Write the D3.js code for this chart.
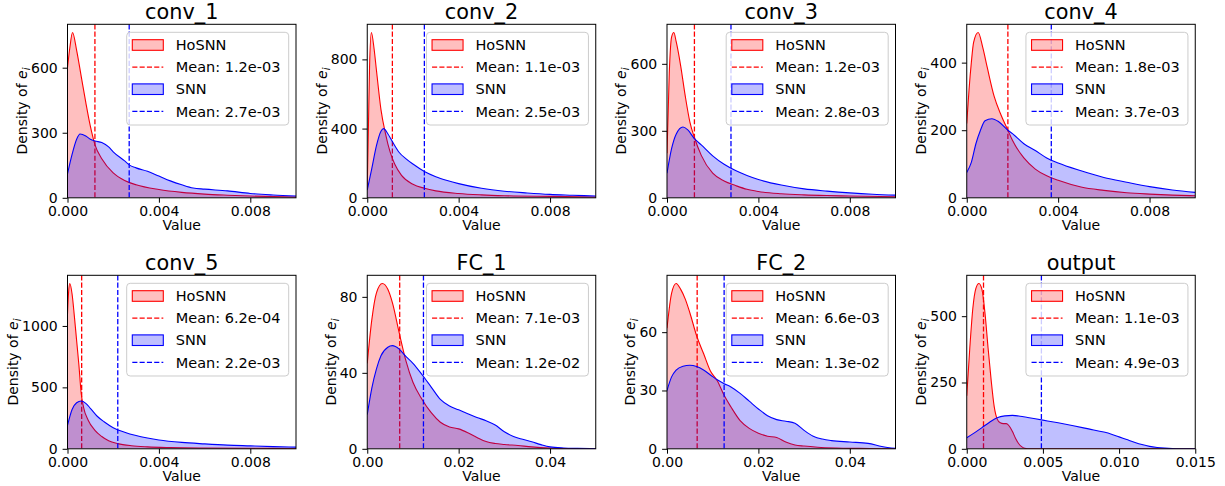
<!DOCTYPE html>
<html>
<head>
<meta charset="utf-8">
<title>Density of e_i per layer: HoSNN vs SNN</title>
<style>
  html, body { margin: 0; padding: 0; background: #fff; }
  svg { display: block; font-family: "DejaVu Sans", sans-serif; }
</style>
</head>
<body>
<svg id="viz"></svg>
<script src="https://cdn.jsdelivr.net/npm/d3@7/dist/d3.min.js"></script>
<script>
var width = 1225;
var height = 486;

// one panel per layer
var titles = ["conv_1", "conv_2", "conv_3", "conv_4", "conv_5", "FC_1", "FC_2", "output"];
var xMax = [0.01, 0.01, 0.01, 0.01, 0.01, 0.05, 0.05, 0.015];
var xTicks = [
  [0, 0.004, 0.008], [0, 0.004, 0.008], [0, 0.004, 0.008], [0, 0.004, 0.008],
  [0, 0.004, 0.008], [0, 0.02, 0.04], [0, 0.02, 0.04], [0, 0.005, 0.010, 0.015]
];
var xTickFormat = [".3f", ".3f", ".3f", ".3f", ".3f", ".2f", ".2f", ".3f"];
var yTicks = [
  [0, 300, 600], [0, 400, 800], [0, 300, 600], [0, 200, 400],
  [0, 500, 1000], [0, 40, 80], [0, 30, 60], [0, 250, 500]
];
var hosnnMean = [0.0012, 0.0011, 0.0012, 0.0018, 0.00062, 0.0071, 0.0066, 0.0011];
var snnMean = [0.0027, 0.0025, 0.0028, 0.0037, 0.0022, 0.0123, 0.0125, 0.0049];
var hosnnMeanLabel = ["1.2e-03", "1.1e-03", "1.2e-03", "1.8e-03", "6.2e-04", "7.1e-03", "6.6e-03", "1.1e-03"];
var snnMeanLabel = ["2.7e-03", "2.5e-03", "2.8e-03", "3.7e-03", "2.2e-03", "1.2e-02", "1.3e-02", "4.9e-03"];

// density curves, [value, density]
var conv1Hosnn = [[0,600],[0.0001,690],[0.00022,762],[0.0004,680],[0.0006,560],[0.0008,440],[0.001,330],[0.0012,245],[0.0015,180],[0.002,115],[0.0025,80],[0.003,60],[0.004,38],[0.005,25],[0.006,17],[0.007,12],[0.008,8],[0.009,6],[0.01,4]];
var conv1Snn = [[0,110],[0.0002,200],[0.0004,270],[0.00055,294],[0.0008,285],[0.001,270],[0.0012,262],[0.0015,255],[0.0018,235],[0.002,212],[0.0025,170],[0.0027,152],[0.003,138],[0.0035,122],[0.004,100],[0.0045,78],[0.005,60],[0.0055,45],[0.006,40],[0.007,32],[0.008,20],[0.009,13],[0.01,8]];

var conv2Hosnn = [[0,60],[0.00005,400],[0.0001,750],[0.00018,955],[0.0003,860],[0.0004,740],[0.0006,510],[0.0008,370],[0.001,265],[0.0012,195],[0.0015,130],[0.002,78],[0.0025,55],[0.003,40],[0.004,25],[0.005,17],[0.006,12],[0.008,8],[0.01,5]];
var conv2Snn = [[0,45],[0.0002,170],[0.0004,300],[0.0006,385],[0.00072,400],[0.0009,370],[0.0011,325],[0.0014,262],[0.0017,225],[0.002,195],[0.0025,152],[0.003,122],[0.0035,100],[0.004,82],[0.005,55],[0.006,38],[0.007,28],[0.008,20],[0.009,15],[0.01,10]];

var conv3Hosnn = [[0,200],[0.0001,560],[0.0002,720],[0.0003,740],[0.0004,700],[0.0006,590],[0.0008,455],[0.001,340],[0.0012,270],[0.0015,190],[0.002,110],[0.0025,75],[0.003,55],[0.0035,38],[0.004,28],[0.005,18],[0.006,13],[0.007,10],[0.008,8],[0.01,5]];
var conv3Snn = [[0,110],[0.0002,220],[0.0004,285],[0.0007,317],[0.0009,305],[0.0012,265],[0.0015,237],[0.002,188],[0.0025,150],[0.003,122],[0.0035,100],[0.004,82],[0.005,57],[0.006,40],[0.007,30],[0.008,22],[0.009,16],[0.01,12]];

var conv4Hosnn = [[0,220],[0.0001,320],[0.0002,400],[0.0003,460],[0.0005,489],[0.0007,445],[0.0009,385],[0.0012,300],[0.0015,245],[0.0018,200],[0.002,170],[0.0025,118],[0.003,85],[0.0035,65],[0.004,52],[0.005,32],[0.006,22],[0.007,15],[0.008,11],[0.009,8],[0.01,6]];
var conv4Snn = [[0,75],[0.0002,105],[0.0004,160],[0.0006,200],[0.0008,228],[0.0011,234],[0.0014,225],[0.0018,200],[0.002,190],[0.0025,160],[0.003,140],[0.0035,118],[0.004,103],[0.005,80],[0.006,60],[0.007,46],[0.008,33],[0.009,23],[0.01,16]];

var conv5Hosnn = [[0,1100],[0.00005,1280],[0.0001,1345],[0.0002,1260],[0.0003,1080],[0.0004,880],[0.0005,680],[0.0006,450],[0.0007,340],[0.0009,235],[0.0012,150],[0.0015,100],[0.0018,65],[0.0022,42],[0.0028,25],[0.0035,16],[0.0045,10],[0.006,6],[0.008,4],[0.01,3]];
var conv5Snn = [[0,190],[0.0002,320],[0.0004,375],[0.0006,389],[0.0008,370],[0.001,330],[0.0013,265],[0.0016,220],[0.002,172],[0.0025,135],[0.003,108],[0.0035,88],[0.004,72],[0.005,52],[0.006,40],[0.007,30],[0.008,24],[0.009,18],[0.01,14]];

var fc1Hosnn = [[0,45],[0.001,68],[0.002,82],[0.0033,87],[0.0045,84],[0.0055,77],[0.007,61],[0.0085,46],[0.01,35],[0.012,26],[0.014,19],[0.016,14],[0.018,11.5],[0.02,10.5],[0.022,8.5],[0.024,6],[0.026,3.8],[0.028,2.8],[0.03,2.3],[0.033,1.7],[0.036,1],[0.04,0.4],[0.045,0.1],[0.05,0]];
var fc1Snn = [[0,18],[0.001,32],[0.002,42],[0.003,49],[0.0045,53.5],[0.0055,54.3],[0.007,52.5],[0.0085,48.5],[0.01,45],[0.012,39],[0.014,32.5],[0.016,26],[0.018,22.5],[0.02,20.5],[0.022,18.5],[0.024,16.5],[0.026,14.8],[0.028,12.5],[0.03,9],[0.032,6.5],[0.034,5],[0.036,3.7],[0.038,2.2],[0.04,1],[0.043,0.4],[0.046,0.2],[0.05,0.1]];

var fc2Hosnn = [[0,62],[0.001,80],[0.002,85],[0.003,82],[0.004,77],[0.005,70],[0.0065,58],[0.008,49],[0.0095,40],[0.011,35],[0.0125,27.5],[0.014,21.5],[0.016,14.5],[0.018,10.5],[0.02,8],[0.022,6.5],[0.024,5.8],[0.026,3.5],[0.028,2],[0.03,1.4],[0.033,0.8],[0.037,0.4],[0.042,0.2],[0.05,0]];
var fc2Snn = [[0,30],[0.001,37],[0.002,40.5],[0.0035,42.5],[0.005,43],[0.0065,42.3],[0.008,40.5],[0.0095,38],[0.011,35.5],[0.0125,33.5],[0.014,31.8],[0.016,28.5],[0.018,24.5],[0.02,20.5],[0.022,17],[0.024,15],[0.026,14.2],[0.028,13.2],[0.03,9.5],[0.032,6.5],[0.034,5],[0.036,4.2],[0.04,3.5],[0.044,2.8],[0.047,1.2],[0.05,0.2]];

var outputHosnn = [[0,200],[0.0002,380],[0.0004,530],[0.0006,605],[0.0008,623],[0.001,600],[0.0012,510],[0.0014,380],[0.0016,260],[0.0018,160],[0.002,112],[0.0022,98],[0.0024,95],[0.0026,95],[0.0028,85],[0.003,65],[0.0032,40],[0.0034,20],[0.0036,8],[0.0038,2],[0.004,0.3],[0.005,0],[0.015,0]];
var outputSnn = [[0,42],[0.0005,60],[0.001,80],[0.0015,100],[0.002,117],[0.0025,124],[0.003,126],[0.0035,123],[0.004,118],[0.005,108],[0.006,98],[0.007,87],[0.008,75],[0.009,63],[0.0095,55],[0.01,45],[0.0105,35],[0.011,25],[0.0115,16],[0.012,9],[0.0125,5],[0.013,2.5],[0.0135,1],[0.014,0.3],[0.015,0.1]];

var hosnnCurves = [conv1Hosnn, conv2Hosnn, conv3Hosnn, conv4Hosnn, conv5Hosnn, fc1Hosnn, fc2Hosnn, outputHosnn];
var snnCurves = [conv1Snn, conv2Snn, conv3Snn, conv4Snn, conv5Snn, fc1Snn, fc2Snn, outputSnn];

// layout (px)
var colLeft = 67.5, colStep = 299.75;
var rowTop = [24.3, 275.3];
var axW = 228.5, axH = 173.5;
var tickFont = 14, legendFont = 14.5, titleFont = 20.8;

var svg = d3.select("#viz").attr("width", width).attr("height", height);

titles.forEach(function(title, i) {
  var left = colLeft + (i % 4) * colStep;
  var top = rowTop[Math.floor(i / 4)];
  var ho = hosnnCurves[i], sn = snnCurves[i];

  var g = svg.append("g").attr("transform", "translate(" + left + "," + top + ")");

  var x = d3.scaleLinear().domain([0, xMax[i]]).range([0, axW]);
  var yTop = 1.05 * d3.max(ho.concat(sn), function(d) { return d[1]; });
  var y = d3.scaleLinear().domain([0, yTop]).range([axH, 0]);

  g.append("clipPath").attr("id", "clip" + i)
    .append("rect").attr("width", axW).attr("height", axH);

  var plot = g.append("g").attr("clip-path", "url(#clip" + i + ")");

  var area = d3.area()
    .x(function(d) { return x(d[0]); })
    .y0(y(0))
    .y1(function(d) { return y(d[1]); })
    .curve(d3.curveMonotoneX);
  var line = d3.line()
    .x(function(d) { return x(d[0]); })
    .y(function(d) { return y(d[1]); })
    .curve(d3.curveMonotoneX);

  function drawSeries(data, mean, color) {
    plot.append("path").datum(data).attr("d", area)
      .attr("fill", color).attr("fill-opacity", 0.25);
    plot.append("path").datum(data).attr("d", line)
      .attr("fill", "none").attr("stroke", color).attr("stroke-width", 1.1);
    plot.append("line")
      .attr("x1", x(mean)).attr("x2", x(mean))
      .attr("y1", 0).attr("y2", axH)
      .attr("stroke", color).attr("stroke-width", 1.3)
      .attr("stroke-dasharray", "5.1,2.2");
  }
  drawSeries(ho, hosnnMean[i], "red");
  drawSeries(sn, snnMean[i], "blue");

  // axes
  var xAxis = g.append("g").attr("transform", "translate(0," + axH + ")")
    .call(d3.axisBottom(x).tickValues(xTicks[i]).tickFormat(d3.format(xTickFormat[i]))
      .tickSize(4.9).tickPadding(3.5).tickSizeOuter(0));
  var yAxis = g.append("g")
    .call(d3.axisLeft(y).tickValues(yTicks[i]).tickFormat(d3.format("d"))
      .tickSize(4.9).tickPadding(4.9).tickSizeOuter(0));
  [xAxis, yAxis].forEach(function(a) {
    a.select(".domain").remove();
    a.selectAll("line").attr("stroke", "#000").attr("stroke-width", 1);
    a.selectAll("text").attr("fill", "#000")
      .style("font-family", "DejaVu Sans").style("font-size", tickFont + "px");
  });

  g.append("rect").attr("width", axW).attr("height", axH)
    .attr("fill", "none").attr("stroke", "#000").attr("stroke-width", 1);

  // labels
  g.append("text").attr("x", axW / 2).attr("y", -5.5)
    .attr("text-anchor", "middle").style("font-size", titleFont + "px").text(title);
  g.append("text").attr("x", axW / 2).attr("y", axH + 32.5)
    .attr("text-anchor", "middle").style("font-size", "14px").text("Value");

  var tickLeft = yAxis.node().getBBox().x;
  var yl = g.append("text")
    .attr("transform", "translate(" + (tickLeft - 4) + "," + (axH / 2) + ") rotate(-90)")
    .attr("text-anchor", "middle").style("font-size", "14px");
  yl.append("tspan").text("Density of ");
  yl.append("tspan").style("font-style", "italic").text("e");
  yl.append("tspan").style("font-style", "italic").style("font-size", "10px")
    .attr("dy", 3).text("i");

  // legend
  var lw = 162, lh = 92.7;
  var lg = g.append("g").attr("transform", "translate(" + (axW - 7.3 - lw) + ",8)");
  lg.append("rect").attr("width", lw).attr("height", lh).attr("rx", 3.5)
    .attr("fill", "#fff").attr("fill-opacity", 0.8)
    .attr("stroke", "#cccccc").attr("stroke-width", 1);
  var rows = [
    {type: "patch", color: "red", label: "HoSNN"},
    {type: "dash", color: "red", label: "Mean: " + hosnnMeanLabel[i]},
    {type: "patch", color: "blue", label: "SNN"},
    {type: "dash", color: "blue", label: "Mean: " + snnMeanLabel[i]}
  ];
  rows.forEach(function(r, k) {
    var cy = 12.7 + k * 22.1;
    if (r.type === "patch") {
      lg.append("rect").attr("x", 5.6).attr("y", cy - 5.3).attr("width", 31).attr("height", 10.6)
        .attr("fill", r.color).attr("fill-opacity", 0.25)
        .attr("stroke", r.color).attr("stroke-width", 1.1);
    } else {
      lg.append("line").attr("x1", 5.6).attr("x2", 36.6).attr("y1", cy).attr("y2", cy)
        .attr("stroke", r.color).attr("stroke-width", 1.3).attr("stroke-dasharray", "5.1,2.2");
    }
    lg.append("text").attr("x", 49).attr("y", cy + 5.3)
      .style("font-size", legendFont + "px").text(r.label);
  });
});
</script>
</body>
</html>
